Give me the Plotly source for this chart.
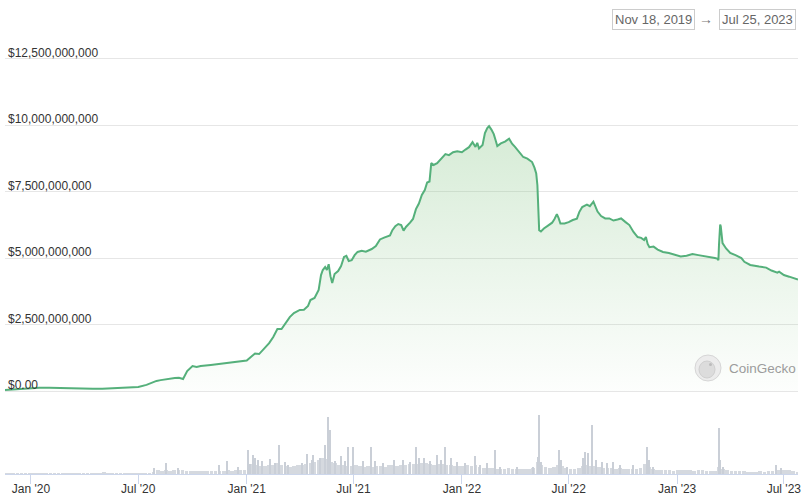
import plotly.graph_objects as go
import pandas as pd

# ---------------- data ----------------
price_dates = [
    "2019-11-18","2019-12-01","2019-12-15","2020-01-01","2020-01-15","2020-02-01","2020-02-15",
    "2020-03-01","2020-03-15","2020-04-01","2020-04-15","2020-05-01","2020-05-15","2020-06-01",
    "2020-06-15","2020-07-01","2020-07-15","2020-08-01","2020-08-08","2020-08-15","2020-08-22",
    "2020-09-01","2020-09-08","2020-09-15","2020-09-22","2020-10-01","2020-10-08","2020-10-15",
    "2020-11-01","2020-11-15","2020-12-01","2020-12-15","2021-01-01","2021-01-08","2021-01-15",
    "2021-01-22","2021-02-01","2021-02-08","2021-02-15","2021-02-22","2021-03-01","2021-03-08",
    "2021-03-15","2021-03-22","2021-04-01","2021-04-08","2021-04-15","2021-04-19","2021-04-26",
    "2021-05-03","2021-05-07","2021-05-10","2021-05-14","2021-05-17","2021-05-20","2021-05-23",
    "2021-05-26","2021-05-30","2021-06-05","2021-06-10","2021-06-15","2021-06-19","2021-06-23",
    "2021-06-28","2021-07-03","2021-07-08","2021-07-15","2021-07-22","2021-08-01","2021-08-08",
    "2021-08-15","2021-08-22","2021-09-01","2021-09-05","2021-09-10","2021-09-15","2021-09-20",
    "2021-09-24","2021-09-28","2021-10-05","2021-10-10","2021-10-15","2021-10-20","2021-10-25",
    "2021-10-30","2021-11-03","2021-11-07","2021-11-10","2021-11-14","2021-11-20","2021-11-27",
    "2021-12-04","2021-12-10","2021-12-17","2021-12-24","2022-01-01","2022-01-07","2022-01-13",
    "2022-01-19","2022-01-24","2022-01-27","2022-01-30","2022-02-05","2022-02-09","2022-02-13",
    "2022-02-16","2022-02-20","2022-02-24","2022-02-27","2022-03-02","2022-03-08","2022-03-15",
    "2022-03-22","2022-03-27","2022-04-01","2022-04-08","2022-04-15","2022-04-22","2022-04-30",
    "2022-05-04","2022-05-07","2022-05-09","2022-05-10","2022-05-11","2022-05-12","2022-05-15",
    "2022-05-20","2022-05-27","2022-06-03","2022-06-07","2022-06-11","2022-06-14","2022-06-17",
    "2022-06-24","2022-07-01","2022-07-08","2022-07-15","2022-07-19","2022-07-24","2022-08-01",
    "2022-08-06","2022-08-12","2022-08-15","2022-08-19","2022-08-25","2022-09-01","2022-09-08",
    "2022-09-15","2022-09-22","2022-09-28","2022-10-05","2022-10-12","2022-10-19","2022-10-26",
    "2022-11-01","2022-11-06","2022-11-09","2022-11-12","2022-11-15","2022-11-22","2022-11-29",
    "2022-12-08","2022-12-18","2022-12-28","2023-01-07","2023-01-17","2023-01-27","2023-02-06",
    "2023-02-16","2023-02-26","2023-03-06","2023-03-10","2023-03-12","2023-03-13","2023-03-14",
    "2023-03-15","2023-03-16","2023-03-17","2023-03-19","2023-03-25","2023-04-01","2023-04-10",
    "2023-04-20","2023-04-25","2023-05-05","2023-05-20","2023-06-01","2023-06-10","2023-06-15",
    "2023-06-20","2023-06-23","2023-07-01","2023-07-10","2023-07-18","2023-07-25",
]
price_bn = [
    0.04,0.06,0.075,0.09,0.12,0.12,0.11,
    0.09,0.09,0.085,0.085,0.09,0.10,0.11,
    0.12,0.15,0.23,0.38,0.41,0.44,0.47,
    0.49,0.50,0.45,0.75,0.94,0.90,0.94,
    0.98,1.02,1.04,1.09,1.15,1.28,1.41,
    1.39,1.62,1.80,2.03,2.33,2.33,2.56,
    2.78,2.93,3.05,3.06,3.20,3.42,3.50,
    3.80,4.36,4.55,4.66,4.55,4.77,4.32,
    4.06,4.40,4.51,4.70,5.04,5.08,4.89,
    4.92,5.11,5.23,5.27,5.24,5.34,5.45,
    5.70,5.77,5.85,6.05,6.20,6.28,6.24,
    6.03,6.17,6.33,6.47,6.84,7.05,7.37,
    7.56,7.84,7.88,8.57,8.50,8.57,8.74,
    8.91,8.87,8.98,9.02,8.98,9.08,9.17,
    9.36,9.18,9.33,9.12,9.25,9.70,9.89,
    9.96,9.83,9.66,9.44,9.21,9.31,9.38,
    9.49,9.30,9.18,9.00,8.80,8.74,8.61,
    8.40,8.18,7.74,6.99,6.43,6.05,6.00,
    6.11,6.22,6.33,6.47,6.65,6.50,6.30,
    6.30,6.35,6.43,6.48,6.73,6.92,7.01,
    6.95,7.12,6.95,6.75,6.58,6.49,6.49,
    6.41,6.45,6.49,6.36,6.24,5.98,5.79,
    5.76,5.68,5.79,5.53,5.41,5.43,5.32,
    5.23,5.19,5.12,5.06,5.09,5.15,5.11,
    5.08,5.04,5.00,4.98,4.92,5.49,6.20,
    6.26,6.20,5.98,5.56,5.36,5.19,5.11,
    5.00,4.86,4.74,4.68,4.64,4.53,4.48,
    4.45,4.49,4.36,4.30,4.25,4.19,
]

# weekly trading volume (million USD), weeks starting 2019-11-18
vol_week_start = "2019-11-18"
vol_weekly_musd = [
    12,12,15,12,15,15, 18,20,20,22,20,22, 25,30,28,32,30,25, 22,22,20,20,22,25,
    40,32,25,22,22,20, 20,20,22,25,28,35, 62,88,75,100,75,88, 100,88,75,80,70,75,
    65,70,75,80,70,75, 88,80,95,100,112,175, 250,225,200,200,225,225, 275,225,200,175,200,225,
    225,250,275,300,350,400, 375,300,275,225,225,200, 200,225,200,175,200,175,
    200,200,175,225,225,200, 225,225,250,250,250,275, 275,250,225,250,250,225,
    225,200,200,200,225,200, 225,175,150,150,150,125, 125,125,150,125,125,125,
    125,125,150,300,225,175, 150,175,225,200,150,125, 125,150,200,225,200,200,
    175,150,150,150,125,150, 125,125,125,125,150,250, 175,125,112,100,88,88,
    80,88,95,88,88,82, 88,88,80,75,80,175, 125,88,75,75,70,65,
    62,62,60,65,62,70, 80,88,100,88,88,75,62,
]
# single-day volume spikes (million USD)
spike_dates = [
    "2020-07-27","2020-08-17","2020-09-06","2020-11-15","2020-11-28","2020-12-17","2021-01-03",
    "2021-01-06","2021-01-11","2021-01-15","2021-01-20","2021-01-27","2021-02-09","2021-02-18",
    "2021-02-24","2021-03-07","2021-03-12","2021-04-04","2021-04-14","2021-04-21","2021-04-24",
    "2021-05-05","2021-05-14","2021-05-19","2021-05-21","2021-05-23","2021-05-30","2021-06-10",
    "2021-06-16","2021-06-22","2021-06-30","2021-07-17","2021-07-31","2021-08-06","2021-08-20",
    "2021-09-07","2021-09-23","2021-10-05","2021-10-15","2021-10-21","2021-10-28","2021-11-07",
    "2021-11-19","2021-11-27","2021-12-04","2021-12-14","2021-12-23","2022-01-06","2022-01-24",
    "2022-01-31","2022-02-12","2022-02-26","2022-03-06","2022-04-04","2022-05-01","2022-05-10",
    "2022-05-12","2022-05-15","2022-06-14","2022-06-18","2022-06-28","2022-07-25","2022-07-28",
    "2022-08-03","2022-08-10","2022-08-17","2022-08-26","2022-09-04","2022-09-14","2022-09-26",
    "2022-10-18","2022-11-11","2022-11-14","2022-11-21","2023-03-13","2023-03-15","2023-03-19",
    "2023-06-18","2023-06-27",
]
spike_musd = [
    142,268,142,232,332,175,608,
    250,482,400,350,325,375,275,
    732,300,225,275,508,350,482,
    400,732,1425,700,1108,325,458,
    325,668,668,325,675,325,275,
    358,350,300,675,400,400,325,
    482,350,675,400,300,275,442,
    225,275,600,175,175,175,432,
    1475,308,600,350,175,400,558,
    518,1225,350,300,275,300,225,
    225,668,350,175,1142,350,175,
    225,150,
]

y_tick_vals = [0, 2.5e9, 5e9, 7.5e9, 10e9, 12.5e9]
y_tick_text = ["$0.00", "$2,500,000,000", "$5,000,000,000", "$7,500,000,000",
               "$10,000,000,000", "$12,500,000,000"]
x_tick_vals = ["2020-01-01", "2020-07-01", "2021-01-01", "2021-07-01",
               "2022-01-01", "2022-07-01", "2023-01-01", "2023-07-01"]
range_start, range_end = "2019-11-18", "2023-07-25"

# ---------------- figure ----------------
week_dates = pd.date_range(vol_week_start, periods=len(vol_weekly_musd), freq="7D")
price_vals = [v * 1e9 for v in price_bn]
DAY_MS = 86400000

LINE = "#55b07b"
FONT = "Liberation Sans, Arial, sans-serif"

fig = go.Figure()
fig.add_trace(go.Bar(
    x=week_dates, y=vol_weekly_musd, yaxis="y", xaxis="x",
    width=6.2 * DAY_MS, marker=dict(color="#d5d9df", line=dict(width=0)),
    hoverinfo="skip", showlegend=False))
fig.add_trace(go.Bar(
    x=pd.to_datetime(spike_dates), y=spike_musd, yaxis="y", xaxis="x",
    width=1.7 * DAY_MS, marker=dict(color="#cacfd7", line=dict(width=0)),
    hoverinfo="skip", showlegend=False))
fig.add_trace(go.Scatter(
    x=pd.to_datetime(price_dates), y=price_vals, yaxis="y2", xaxis="x",
    mode="lines", line=dict(color=LINE, width=2),
    fill="tozeroy",
    fillgradient=dict(type="vertical", start=0, stop=10e9,
                      colorscale=[[0, "rgba(140,200,140,0.02)"],
                                  [1, "rgba(140,200,140,0.36)"]]),
    hoverinfo="skip", showlegend=False))

fig.update_layout(
    width=804, height=499,
    margin=dict(l=5, r=6, t=40, b=25, autoexpand=False),
    paper_bgcolor="white", plot_bgcolor="white",
    barmode="overlay", bargap=0,
    font=dict(family=FONT, size=12, color="#333333"),
    xaxis=dict(
        type="date", range=[range_start, range_end], anchor="y", automargin=False,
        tickvals=x_tick_vals, tickformat="%b '%y",
        ticks="outside", ticklen=9, tickwidth=1, tickcolor="#ccd6eb",
        ticklabelstandoff=-5,
        showline=True, linecolor="#ccd6eb", linewidth=1,
        showgrid=False, zeroline=False,
        tickfont=dict(family=FONT, size=12, color="#333333"),
    ),
    yaxis=dict(
        domain=[0, 0.1475], range=[0, 1600], automargin=False,
        showgrid=False, zeroline=False, showticklabels=False, ticks="",
    ),
    yaxis2=dict(
        domain=[0.1866, 1.0], range=[-0.075e9, 13.2e9], automargin=False,
        anchor="free", position=0, side="right",
        tickvals=y_tick_vals, ticktext=y_tick_text,
        ticklabelposition="outside",
        ticklabelstandoff=2, ticklabelshift=-6,
        showgrid=True, gridcolor="#e6e6e6", gridwidth=1,
        zeroline=False, showline=False, ticks="",
        tickfont=dict(family=FONT, size=12, color="#333333"),
    ),
)

# date range boxes
box_font = dict(family=FONT, size=13, color="#666666")
fig.add_annotation(text="Nov 18, 2019", xref="paper", yref="paper",
                   x=(653 - 5) / 793, y=(474 - 19.5) / 434, showarrow=False,
                   font=box_font, bordercolor="#cccccc", borderwidth=1, borderpad=2,
                   xanchor="center", yanchor="middle")
fig.add_annotation(text="→", xref="paper", yref="paper",
                   x=(706 - 5) / 793, y=(474 - 18.5) / 434, showarrow=False,
                   font=dict(family=FONT, size=14, color="#777777"),
                   xanchor="center", yanchor="middle")
fig.add_annotation(text="Jul 25, 2023", xref="paper", yref="paper",
                   x=(757.5 - 5) / 793, y=(474 - 19.5) / 434, showarrow=False,
                   font=box_font, bordercolor="#cccccc", borderwidth=1, borderpad=2,
                   xanchor="center", yanchor="middle")

# CoinGecko watermark
cx, cy = (708 - 5) / 793, (474 - 368) / 434
fig.add_shape(type="circle", xref="paper", yref="paper", xsizemode="pixel", ysizemode="pixel",
              xanchor=cx, yanchor=cy, x0=-13, x1=13, y0=-13, y1=13,
              fillcolor="#ececec", line=dict(color="#d6d6d6", width=1), layer="above")
fig.add_shape(type="circle", xref="paper", yref="paper", xsizemode="pixel", ysizemode="pixel",
              xanchor=cx, yanchor=cy, x0=-9, x1=7, y0=-10, y1=7,
              fillcolor="#dcdcdc", line=dict(color="#cfcfcf", width=1), layer="above")
fig.add_shape(type="circle", xref="paper", yref="paper", xsizemode="pixel", ysizemode="pixel",
              xanchor=cx, yanchor=cy, x0=1, x1=4, y0=2, y1=5,
              fillcolor="#bbbbbb", line=dict(width=0), layer="above")
fig.add_annotation(text="CoinGecko", xref="paper", yref="paper",
                   x=(727 - 5) / 793, y=cy, showarrow=False,
                   font=dict(family=FONT, size=13.5, color="#9c9c9c"),
                   xanchor="left", yanchor="middle")

fig.write_html("out.html")
